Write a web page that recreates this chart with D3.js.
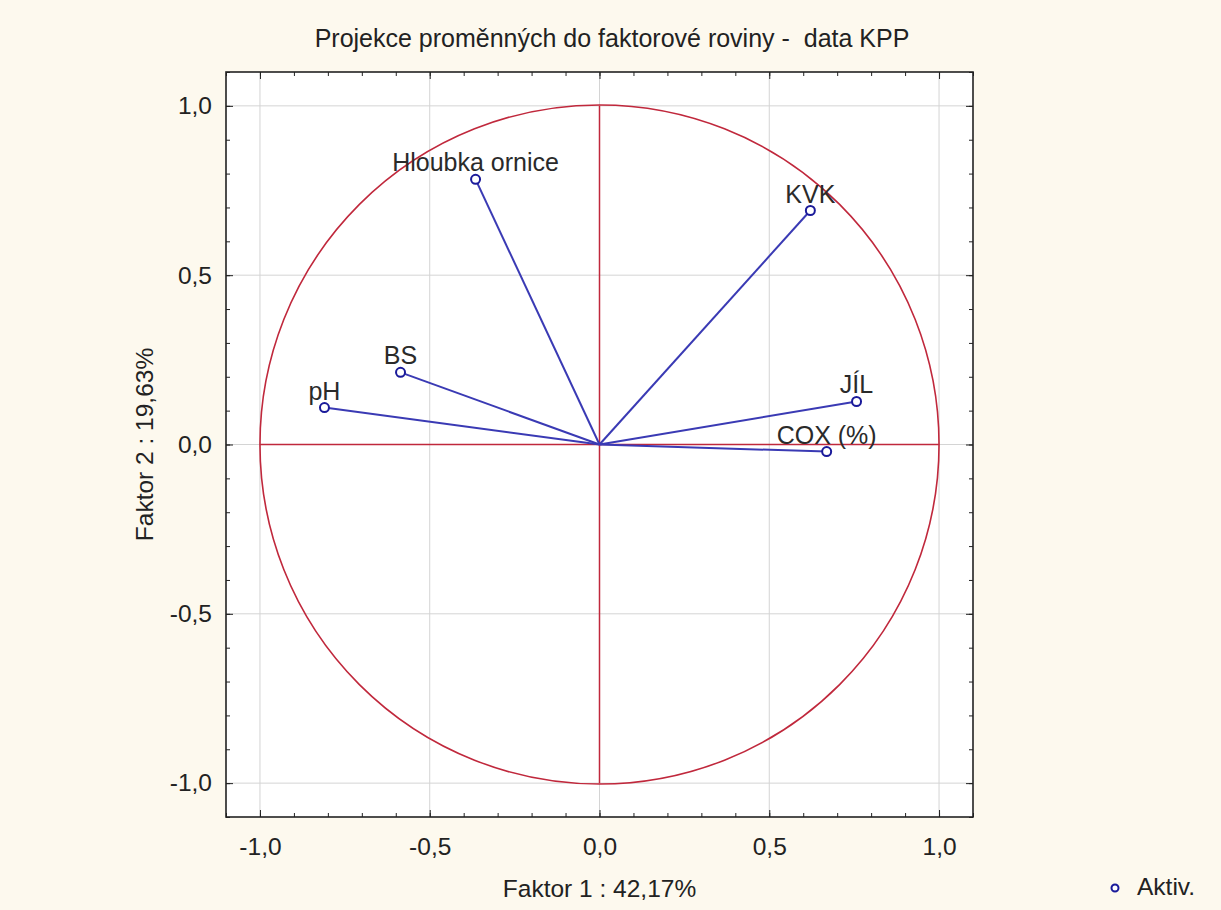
<!DOCTYPE html>
<html><head><meta charset="utf-8">
<script src="https://cdn.jsdelivr.net/npm/d3@7"></script>
<style>
html,body{margin:0;padding:0;background:#fdf9ee;}
svg{display:block;font-family:"Liberation Sans",Arial,sans-serif;}
</style></head>
<body>
<script>
const variables = ["Hloubka ornice", "KVK", "BS", "pH", "JÍL", "COX (%)"];
const factor1 = [-0.365, 0.621, -0.586, -0.810, 0.757, 0.669];
const factor2 = [0.783, 0.691, 0.213, 0.109, 0.127, -0.021];
const tickValues = [-1.0, -0.5, 0.0, 0.5, 1.0];
const tickLabels = ["-1,0", "-0,5", "0,0", "0,5", "1,0"];
const titleText = "Projekce proměnných do faktorové roviny -  data KPP";
const xLabel = "Faktor 1 : 42,17%";
const yLabel = "Faktor 2 : 19,63%";
const legendLabel = "Aktiv.";

const W = 1221, H = 910;
const m = {left: 226, top: 72, right: 973, bottom: 817};
const svg = d3.select("body").append("svg").attr("width", W).attr("height", H);
svg.append("rect").attr("width", W).attr("height", H).attr("fill", "#fdf9ee");

const x = d3.scaleLinear().domain([-1.1, 1.1]).range([m.left, m.right]);
const y = d3.scaleLinear().domain([-1.1, 1.1]).range([m.bottom, m.top]);

svg.append("rect").attr("x", m.left).attr("y", m.top)
  .attr("width", m.right - m.left).attr("height", m.bottom - m.top).attr("fill", "#fff");

// grid
const g = svg.append("g");
tickValues.forEach(v => {
  g.append("line").attr("x1", x(v)).attr("x2", x(v)).attr("y1", m.top).attr("y2", m.bottom)
    .attr("stroke", "#d4d4d4").attr("stroke-width", 1);
  g.append("line").attr("y1", y(v)).attr("y2", y(v)).attr("x1", m.left).attr("x2", m.right)
    .attr("stroke", "#d4d4d4").attr("stroke-width", 1);
});

// unit circle and red axes
const red = "#c0283c";
svg.append("circle").attr("cx", x(0)).attr("cy", y(0)).attr("r", x(1) - x(0))
  .attr("fill", "none").attr("stroke", red).attr("stroke-width", 1.6);
svg.append("line").attr("x1", x(-1)).attr("x2", x(1)).attr("y1", y(0)).attr("y2", y(0))
  .attr("stroke", red).attr("stroke-width", 1.5);
svg.append("line").attr("x1", x(0)).attr("x2", x(0)).attr("y1", y(1)).attr("y2", y(-1))
  .attr("stroke", red).attr("stroke-width", 1.5);

// axes (ticks inward)
const fmt = d => tickLabels[tickValues.indexOf(d)] || "";
const minor = d3.range(-11, 12).map(i => i / 10);
function drawAxis(gen, tx, ty) {
  const a = svg.append("g").attr("transform", `translate(${tx},${ty})`);
  a.call(gen);
  a.selectAll("path").remove();
  a.selectAll("line").attr("stroke", "#222");
  return a;
}
[[d3.axisBottom(x), 0, m.bottom], [d3.axisTop(x), 0, m.top],
 [d3.axisLeft(y), m.left, 0], [d3.axisRight(y), m.right, 0]].forEach(([gen, tx, ty]) => {
  drawAxis(gen.tickValues(minor).tickSize(-4).tickFormat(""), tx, ty);
});
const xb = drawAxis(d3.axisBottom(x).tickValues(tickValues).tickSize(-7).tickPadding(21).tickFormat(fmt), 0, m.bottom);
drawAxis(d3.axisTop(x).tickValues(tickValues).tickSize(-7).tickFormat(""), 0, m.top);
const yl = drawAxis(d3.axisLeft(y).tickValues(tickValues).tickSize(-7).tickPadding(14).tickFormat(fmt), m.left, 0);
drawAxis(d3.axisRight(y).tickValues(tickValues).tickSize(-7).tickFormat(""), m.right, 0);
[xb, yl].forEach(a => a.selectAll("text").attr("font-size", 24.5).attr("fill", "#222")
  .attr("font-family", "'Liberation Sans',Arial,sans-serif"));

// frame
svg.append("rect").attr("x", m.left).attr("y", m.top)
  .attr("width", m.right - m.left).attr("height", m.bottom - m.top)
  .attr("fill", "none").attr("stroke", "#222").attr("stroke-width", 1.6);

// vectors
const blue = "#3a3ab4";
const pts = variables.map((v, i) => ({name: v, fx: factor1[i], fy: factor2[i]}));
svg.append("g").selectAll("line").data(pts).join("line")
  .attr("x1", x(0)).attr("y1", y(0)).attr("x2", d => x(d.fx)).attr("y2", d => y(d.fy))
  .attr("stroke", blue).attr("stroke-width", 2);
svg.append("g").selectAll("circle").data(pts).join("circle")
  .attr("cx", d => x(d.fx)).attr("cy", d => y(d.fy)).attr("r", 4.5)
  .attr("fill", "#fff").attr("stroke", "#1a1a9a").attr("stroke-width", 2);
svg.append("g").selectAll("text").data(pts).join("text")
  .attr("x", d => x(d.fx)).attr("y", d => y(d.fy) - 8)
  .attr("text-anchor", "middle").attr("font-size", 25).attr("fill", "#2a2a2a")
  .text(d => d.name);

// titles
svg.append("text").attr("x", 612).attr("y", 47).attr("text-anchor", "middle")
  .style("white-space", "pre")
  .attr("font-size", 25).attr("fill", "#222").text(titleText);
svg.append("text").attr("x", x(0)).attr("y", 897).attr("text-anchor", "middle")
  .attr("font-size", 24.5).attr("fill", "#222").text(xLabel);
svg.append("text").attr("transform", `translate(153,${y(0)}) rotate(-90)`).attr("text-anchor", "middle")
  .attr("font-size", 24.5).attr("fill", "#222").text(yLabel);

// legend
svg.append("circle").attr("cx", 1115).attr("cy", 888).attr("r", 3.5)
  .attr("fill", "#fff").attr("stroke", "#1a1a9a").attr("stroke-width", 2);
svg.append("text").attr("x", 1137).attr("y", 895).attr("font-size", 24.5).attr("fill", "#222").text(legendLabel);
</script>
</body></html>
